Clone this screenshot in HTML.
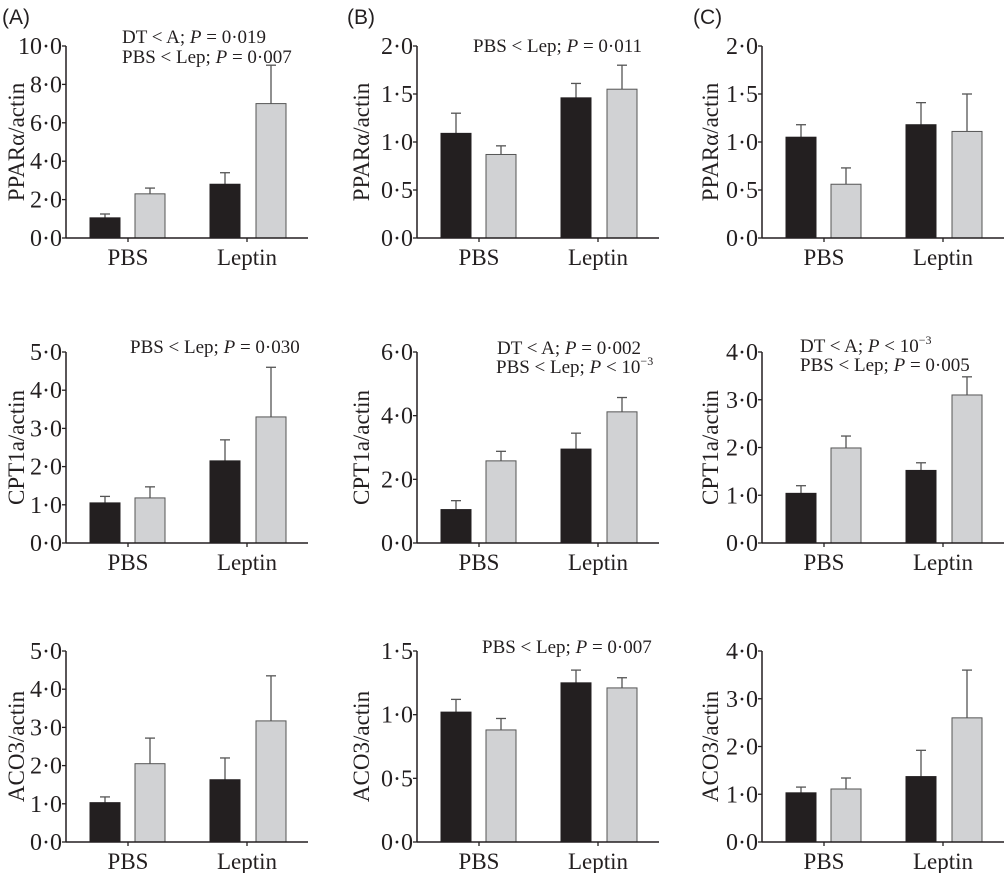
<!DOCTYPE html>
<html><head><meta charset="utf-8">
<style>
html,body{margin:0;padding:0;background:#fff;}
svg{display:block;}
svg text{font-family:"Liberation Serif",serif;}
svg text.pl{font-family:"Liberation Sans",sans-serif;font-size:21px;fill:#231f20;}
</style></head>
<body>
<svg id="fig" width="1006" height="873" viewBox="0 0 1006 873">
<text class="pl" x="2" y="24">(A)</text>
<text class="pl" x="347" y="24">(B)</text>
<text class="pl" x="693" y="24">(C)</text>
</svg>
<script>
const categories = ["PBS", "Leptin"];
const titles = ["PPARα/actin","CPT1a/actin","ACO3/actin"];
// values per panel: [PBS-black, PBS-gray, Leptin-black, Leptin-gray]
const A1_vals=[1.05,2.3,2.8,7.0],  A1_err=[1.25,2.6,3.4,9.0];
const A2_vals=[1.05,1.18,2.15,3.3], A2_err=[1.22,1.47,2.7,4.6];
const A3_vals=[1.03,2.05,1.63,3.17],A3_err=[1.18,2.72,2.2,4.35];
const B1_vals=[1.09,0.87,1.46,1.55],B1_err=[1.30,0.96,1.61,1.80];
const B2_vals=[1.05,2.58,2.95,4.12],B2_err=[1.33,2.88,3.45,4.57];
const B3_vals=[1.02,0.88,1.25,1.21],B3_err=[1.12,0.97,1.35,1.29];
const C1_vals=[1.05,0.56,1.18,1.11],C1_err=[1.18,0.73,1.41,1.50];
const C2_vals=[1.04,1.99,1.52,3.1], C2_err=[1.2,2.24,1.68,3.48];
const C3_vals=[1.03,1.11,1.37,2.6], C3_err=[1.15,1.34,1.92,3.6];
const A1_ticks=[0,2,4,6,8,10], A2_ticks=[0,1,2,3,4,5], A3_ticks=[0,1,2,3,4,5];
const B1_ticks=[0,0.5,1,1.5,2], B2_ticks=[0,2,4,6], B3_ticks=[0,0.5,1,1.5];
const C1_ticks=[0,0.5,1,1.5,2], C2_ticks=[0,1,2,3,4], C3_ticks=[0,1,2,3,4];

const NS="http://www.w3.org/2000/svg";
const svg=document.getElementById('fig');
const SERIF='"Liberation Serif", serif';
function mk(tag,attrs,parent){const e=document.createElementNS(NS,tag);for(const k in attrs)e.setAttribute(k,attrs[k]);(parent||svg).appendChild(e);return e;}
function fmt(v){return v.toFixed(1).replace('.','·');}

const cols=[{ax:66,tx:16},{ax:417,tx:361},{ax:762,tx:710}];
const rows=[{top:46,bot:238},{top:352,bot:543},{top:651,bot:842}];
const panels=[
 [A1_vals,A1_err,A1_ticks],[A2_vals,A2_err,A2_ticks],[A3_vals,A3_err,A3_ticks],
 [B1_vals,B1_err,B1_ticks],[B2_vals,B2_err,B2_ticks],[B3_vals,B3_err,B3_ticks],
 [C1_vals,C1_err,C1_ticks],[C2_vals,C2_err,C2_ticks],[C3_vals,C3_err,C3_ticks]];
const barOff=[24,69,144,190], barW=30, catOff=[62,181];

panels.forEach((p,i)=>{
  const c=cols[Math.floor(i/3)], r=rows[i%3];
  const [vals,errs,ticks]=p;
  const g=mk('g',{});
  
  
  const ymax=ticks[ticks.length-1];
  const y=v=>r.bot-(v/ymax)*(r.bot-r.top);
  vals.forEach((v,j)=>{
    const x=c.ax+barOff[j];
    const cx=x+barW/2;
    const eb=mk('line',{x1:cx,x2:cx,y1:y(v),y2:y(errs[j]),stroke:'#555','stroke-width':1.3},g);
    
    
    const cap=mk('line',{x1:cx-5,x2:cx+5,y1:y(errs[j]),y2:y(errs[j]),stroke:'#555','stroke-width':1.3},g);
    
    
    const b=mk('rect',{x:x,y:y(v),width:barW,height:r.bot-y(v),fill:j%2?'#d1d2d4':'#231f20',stroke:j%2?'#555':'#231f20','stroke-width':1},g);
    
    
  });
  const ya=mk('line',{x1:c.ax,x2:c.ax,y1:r.top,y2:r.bot,stroke:'#231f20','stroke-width':1.5},g);
  
  
  const xa=mk('line',{x1:c.ax,x2:c.ax+242,y1:r.bot,y2:r.bot,stroke:'#231f20','stroke-width':1.5},g);
  
  
  ticks.forEach(t=>{
    mk('line',{x1:c.ax-4,x2:c.ax,y1:y(t),y2:y(t),stroke:'#231f20','stroke-width':1.3},g);
    const tl=mk('text',{x:c.ax-4,y:y(t)+8,'text-anchor':'end','font-size':24,'font-family':SERIF,fill:'#231f20'},g);
    tl.textContent=fmt(t);
    
    
  });
  categories.forEach((cat,k)=>{
    const x=c.ax+catOff[k];
    mk('line',{x1:x,x2:x,y1:r.bot,y2:r.bot+4,stroke:'#231f20','stroke-width':1.3},g);
    const cl=mk('text',{x:x,y:r.bot+27,'text-anchor':'middle','font-size':23,'font-family':SERIF,fill:'#231f20'},g);
    cl.textContent=cat;
    
    
  });
  const yt=mk('text',{x:0,y:0,'text-anchor':'middle','font-size':23,'font-family':SERIF,fill:'#231f20',transform:`translate(${c.tx+8},${(r.top+r.bot)/2}) rotate(-90)`},g);
  yt.textContent=titles[i%3];
  
  
});

const notes=[
 [122,43,'DT < A; <tspan font-style="italic">P</tspan> = 0·019'],
 [122,63,'PBS < Lep; <tspan font-style="italic">P</tspan> = 0·007'],
 [130,353,'PBS < Lep; <tspan font-style="italic">P</tspan> = 0·030'],
 [473,52,'PBS < Lep; <tspan font-style="italic">P</tspan> = 0·011'],
 [497,354,'DT < A; <tspan font-style="italic">P</tspan> = 0·002'],
 [496,373,'PBS < Lep; <tspan font-style="italic">P</tspan> &lt; 10<tspan font-size="12" dy="-8">−3</tspan>'],
 [482,653,'PBS < Lep; <tspan font-style="italic">P</tspan> = 0·007'],
 [800,352,'DT < A; <tspan font-style="italic">P</tspan> &lt; 10<tspan font-size="12" dy="-8">−3</tspan>'],
 [800,371,'PBS < Lep; <tspan font-style="italic">P</tspan> = 0·005']];
notes.forEach(n=>{
  const t=mk('text',{x:n[0],y:n[1],'font-size':19,'font-family':SERIF,fill:'#231f20'});
  t.innerHTML=n[2].replace(/ < /g,' &lt; ');
  
  
});
</script>
</body></html>
